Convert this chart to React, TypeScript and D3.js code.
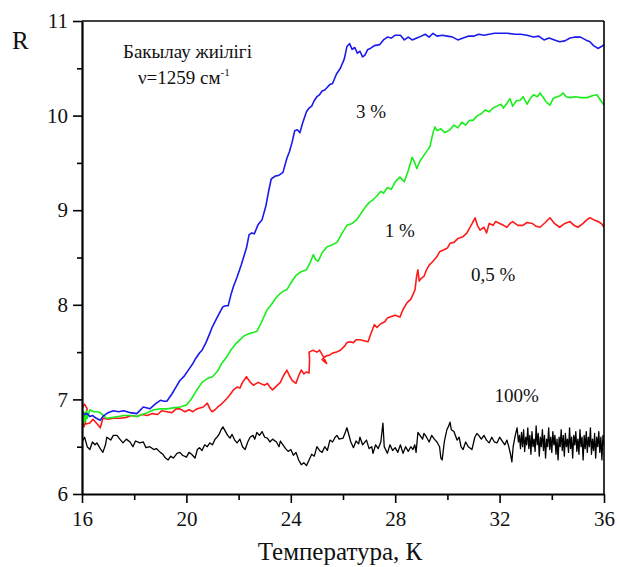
import * as d3 from "d3";
import { useEffect, useRef } from "react";

// temperature, K / reflectance R
const blue3: [number, number][] = [
  [16.0, 6.86], [16.1, 6.84], [16.2, 6.85], [16.3, 6.82], [16.4, 6.83], [16.55, 6.8], [16.7, 6.78], [16.8, 6.82],
  [17.0, 6.86], [17.2, 6.88], [17.4, 6.87], [17.6, 6.88], [17.85, 6.86], [18.1, 6.85], [18.35, 6.92], [18.5, 6.91],
  [18.6, 6.9], [18.8, 6.95], [19.0, 6.99], [19.15, 6.98], [19.25, 6.98], [19.45, 7.06], [19.6, 7.13], [19.75, 7.2],
  [19.9, 7.24], [20.1, 7.32], [20.25, 7.38], [20.35, 7.43], [20.5, 7.49], [20.6, 7.52], [20.75, 7.6], [20.9, 7.7],
  [21.0, 7.77], [21.15, 7.85], [21.3, 7.93], [21.4, 7.98], [21.5, 7.99], [21.6, 7.99], [21.7, 8.1], [21.8, 8.19],
  [21.95, 8.3], [22.1, 8.42], [22.2, 8.51], [22.3, 8.6], [22.4, 8.74], [22.5, 8.76], [22.6, 8.75], [22.75, 8.85],
  [22.9, 8.9], [23.05, 9.05], [23.15, 9.2], [23.25, 9.33], [23.4, 9.36], [23.55, 9.37], [23.7, 9.4], [23.85, 9.55],
  [23.95, 9.62], [24.05, 9.72], [24.15, 9.84], [24.25, 9.85], [24.35, 9.82], [24.45, 9.92], [24.6, 10.04], [24.7, 10.08],
  [24.8, 10.1], [24.9, 10.16], [25.0, 10.2], [25.1, 10.22], [25.2, 10.26], [25.3, 10.27], [25.4, 10.3], [25.5, 10.33],
  [25.6, 10.34], [25.75, 10.44], [25.9, 10.5], [26.05, 10.6], [26.15, 10.73], [26.25, 10.76], [26.35, 10.7], [26.45, 10.72],
  [26.55, 10.66], [26.65, 10.68], [26.75, 10.62], [26.84, 10.64], [26.95, 10.7], [27.05, 10.71], [27.2, 10.74], [27.4, 10.75],
  [27.55, 10.8], [27.7, 10.83], [27.85, 10.82], [28.0, 10.85], [28.2, 10.85], [28.35, 10.8], [28.5, 10.83], [28.65, 10.8],
  [28.83, 10.82], [29.0, 10.84], [29.15, 10.86], [29.3, 10.83], [29.45, 10.87], [29.6, 10.84], [29.8, 10.85], [30.0, 10.84],
  [30.2, 10.83], [30.4, 10.8], [30.6, 10.82], [30.8, 10.84], [31.0, 10.84], [31.2, 10.86], [31.4, 10.85], [31.6, 10.86],
  [31.8, 10.87], [32.0, 10.87], [32.3, 10.87], [32.6, 10.86], [32.8, 10.86], [33.05, 10.85], [33.3, 10.83], [33.5, 10.84],
  [33.7, 10.8], [33.9, 10.82], [34.1, 10.8], [34.3, 10.78], [34.5, 10.79], [34.7, 10.82], [34.9, 10.83], [35.1, 10.83],
  [35.3, 10.8], [35.46, 10.78], [35.6, 10.74], [35.77, 10.71], [35.9, 10.73], [36.0, 10.75],
];

const green1: [number, number][] = [
  [16.0, 6.88], [16.02, 6.74], [16.05, 6.87], [16.08, 6.75], [16.11, 6.86], [16.14, 6.77], [16.17, 6.88], [16.2, 6.8],
  [16.3, 6.89], [16.45, 6.87], [16.6, 6.87], [16.7, 6.86], [16.85, 6.82], [16.95, 6.8], [17.2, 6.81], [17.4, 6.82],
  [17.6, 6.83], [17.85, 6.83], [18.1, 6.82], [18.3, 6.84], [18.5, 6.86], [18.75, 6.89], [19.0, 6.9], [19.25, 6.9],
  [19.5, 6.91], [19.75, 6.92], [20.0, 6.94], [20.15, 6.99], [20.25, 7.03], [20.4, 7.1], [20.6, 7.18], [20.8, 7.22],
  [21.0, 7.24], [21.2, 7.3], [21.35, 7.38], [21.55, 7.45], [21.7, 7.52], [21.9, 7.59], [22.05, 7.63], [22.2, 7.67],
  [22.35, 7.69], [22.45, 7.7], [22.6, 7.71], [22.7, 7.72], [22.85, 7.8], [23.0, 7.89], [23.1, 7.95], [23.25, 8.0],
  [23.45, 8.08], [23.6, 8.12], [23.75, 8.15], [23.85, 8.16], [24.0, 8.23], [24.2, 8.31], [24.4, 8.35], [24.6, 8.37],
  [24.75, 8.45], [24.86, 8.53], [24.95, 8.48], [25.05, 8.46], [25.2, 8.55], [25.38, 8.61], [25.55, 8.63], [25.77, 8.66],
  [25.95, 8.75], [26.15, 8.84], [26.35, 8.86], [26.53, 8.9], [26.7, 8.97], [26.85, 9.03], [27.0, 9.08], [27.15, 9.11],
  [27.3, 9.15], [27.45, 9.2], [27.55, 9.18], [27.7, 9.24], [27.85, 9.22], [28.0, 9.3], [28.18, 9.35], [28.35, 9.3],
  [28.5, 9.42], [28.65, 9.56], [28.75, 9.5], [28.83, 9.44], [28.95, 9.52], [29.1, 9.58], [29.25, 9.64], [29.33, 9.67],
  [29.45, 9.82], [29.52, 9.88], [29.6, 9.84], [29.75, 9.86], [29.9, 9.82], [30.1, 9.85], [30.25, 9.9], [30.4, 9.87],
  [30.55, 9.93], [30.7, 9.9], [30.85, 9.95], [30.98, 9.95], [31.15, 10.0], [31.3, 10.02], [31.45, 10.06], [31.6, 10.04],
  [31.75, 10.08], [31.9, 10.1], [32.05, 10.12], [32.15, 10.08], [32.28, 10.13], [32.4, 10.18], [32.5, 10.1], [32.65, 10.16],
  [32.78, 10.16], [32.9, 10.2], [33.05, 10.12], [33.17, 10.18], [33.3, 10.22], [33.45, 10.2], [33.55, 10.24], [33.7, 10.18],
  [33.8, 10.14], [33.93, 10.11], [34.05, 10.18], [34.2, 10.2], [34.32, 10.21], [34.43, 10.24], [34.55, 10.2], [34.7, 10.19],
  [34.9, 10.2], [35.1, 10.19], [35.35, 10.19], [35.55, 10.21], [35.73, 10.22], [35.85, 10.17], [36.0, 10.11],
];

const red05: [number, number][] = [
  [16.0, 6.91], [16.1, 6.95], [16.2, 6.9], [16.1, 6.8], [16.0, 6.72], [16.04, 6.76], [16.08, 6.71], [16.12, 6.76],
  [16.15, 6.74], [16.3, 6.75], [16.42, 6.79], [16.55, 6.75], [16.7, 6.7], [16.8, 6.8], [17.0, 6.79], [17.2, 6.8],
  [17.45, 6.8], [17.7, 6.81], [17.9, 6.83], [18.1, 6.82], [18.3, 6.84], [18.5, 6.83], [18.7, 6.85], [18.9, 6.84],
  [19.05, 6.88], [19.25, 6.87], [19.45, 6.86], [19.6, 6.9], [19.75, 6.9], [19.95, 6.87], [20.1, 6.89], [20.25, 6.87],
  [20.4, 6.9], [20.52, 6.91], [20.65, 6.92], [20.8, 6.96], [20.9, 6.9], [20.98, 6.87], [21.1, 6.89], [21.2, 6.92],
  [21.3, 6.94], [21.45, 6.98], [21.55, 7.01], [21.67, 7.05], [21.8, 7.1], [21.94, 7.13], [22.05, 7.12], [22.15, 7.18],
  [22.3, 7.24], [22.45, 7.18], [22.57, 7.15], [22.75, 7.18], [22.9, 7.16], [23.0, 7.15], [23.1, 7.17], [23.2, 7.13],
  [23.3, 7.1], [23.45, 7.14], [23.6, 7.18], [23.72, 7.25], [23.85, 7.31], [23.95, 7.25], [24.05, 7.2], [24.2, 7.17],
  [24.3, 7.25], [24.4, 7.31], [24.5, 7.27], [24.6, 7.29], [24.7, 7.28], [24.72, 7.42], [24.7, 7.5], [24.85, 7.52],
  [25.0, 7.5], [25.1, 7.52], [25.25, 7.45], [25.37, 7.38], [25.2, 7.42], [25.35, 7.46], [25.5, 7.47], [25.6, 7.49],
  [25.75, 7.5], [25.9, 7.52], [26.05, 7.56], [26.15, 7.6], [26.27, 7.61], [26.4, 7.6], [26.5, 7.63], [26.65, 7.63],
  [26.8, 7.62], [26.96, 7.61], [27.05, 7.68], [27.2, 7.79], [27.3, 7.76], [27.45, 7.8], [27.6, 7.82], [27.7, 7.86],
  [27.8, 7.87], [28.0, 7.89], [28.18, 7.87], [28.3, 7.95], [28.45, 8.02], [28.6, 8.06], [28.7, 8.12], [28.76, 8.16],
  [28.82, 8.3], [28.87, 8.37], [28.92, 8.25], [29.0, 8.28], [29.1, 8.3], [29.2, 8.37], [29.3, 8.42], [29.45, 8.46],
  [29.6, 8.51], [29.7, 8.56], [29.85, 8.58], [30.0, 8.6], [30.1, 8.65], [30.25, 8.66], [30.4, 8.7], [30.6, 8.72],
  [30.75, 8.76], [30.87, 8.82], [30.95, 8.86], [31.06, 8.92], [31.15, 8.84], [31.25, 8.79], [31.4, 8.82], [31.5, 8.76],
  [31.6, 8.86], [31.75, 8.84], [31.85, 8.88], [32.0, 8.86], [32.15, 8.84], [32.28, 8.82], [32.4, 8.86], [32.5, 8.88],
  [32.7, 8.84], [32.9, 8.84], [33.05, 8.87], [33.25, 8.86], [33.4, 8.83], [33.55, 8.82], [33.75, 8.87], [33.93, 8.92],
  [34.1, 8.86], [34.3, 8.82], [34.5, 8.86], [34.7, 8.88], [34.85, 8.84], [35.0, 8.82], [35.2, 8.86], [35.35, 8.9],
  [35.46, 8.92], [35.6, 8.9], [35.77, 8.88], [35.9, 8.86], [36.0, 8.82],
];

const black100: [number, number][] = [
  [16.0, 6.55], [16.1, 6.6], [16.2, 6.5], [16.3, 6.47], [16.4, 6.55], [16.5, 6.52], [16.57, 6.54], [16.7, 6.48],
  [16.8, 6.44], [16.9, 6.52], [16.95, 6.6], [17.1, 6.57], [17.2, 6.62], [17.34, 6.62], [17.45, 6.58], [17.57, 6.54],
  [17.7, 6.58], [17.84, 6.55], [17.95, 6.5], [18.05, 6.56], [18.22, 6.54], [18.35, 6.55], [18.45, 6.49], [18.6, 6.5],
  [18.75, 6.47], [18.85, 6.48], [19.0, 6.44], [19.1, 6.42], [19.2, 6.38], [19.3, 6.36], [19.4, 6.4], [19.5, 6.38],
  [19.64, 6.43], [19.75, 6.44], [19.85, 6.41], [20.0, 6.39], [20.1, 6.44], [20.2, 6.42], [20.33, 6.38], [20.42, 6.47],
  [20.5, 6.49], [20.6, 6.46], [20.7, 6.52], [20.8, 6.5], [20.9, 6.54], [21.0, 6.52], [21.1, 6.58], [21.17, 6.6],
  [21.25, 6.63], [21.33, 6.68], [21.4, 6.71], [21.5, 6.66], [21.58, 6.62], [21.67, 6.59], [21.75, 6.63], [21.85, 6.57],
  [21.94, 6.54], [22.05, 6.58], [22.15, 6.5], [22.25, 6.47], [22.35, 6.55], [22.44, 6.6], [22.55, 6.62], [22.62, 6.58],
  [22.7, 6.65], [22.8, 6.62], [22.9, 6.66], [23.0, 6.6], [23.1, 6.59], [23.2, 6.55], [23.3, 6.58], [23.45, 6.55],
  [23.55, 6.5], [23.6, 6.56], [23.7, 6.52], [23.8, 6.48], [23.9, 6.45], [24.0, 6.47], [24.1, 6.41], [24.2, 6.44],
  [24.3, 6.36], [24.4, 6.31], [24.5, 6.33], [24.6, 6.3], [24.7, 6.36], [24.8, 6.42], [24.9, 6.4], [25.0, 6.5],
  [25.1, 6.46], [25.2, 6.44], [25.3, 6.5], [25.4, 6.46], [25.5, 6.57], [25.6, 6.55], [25.7, 6.6], [25.77, 6.62],
  [25.85, 6.58], [26.0, 6.59], [26.1, 6.66], [26.15, 6.7], [26.25, 6.6], [26.3, 6.55], [26.4, 6.49], [26.5, 6.56],
  [26.6, 6.53], [26.65, 6.6], [26.75, 6.52], [26.9, 6.57], [27.0, 6.48], [27.1, 6.5], [27.15, 6.43], [27.25, 6.52],
  [27.35, 6.48], [27.45, 6.55], [27.53, 6.75], [27.58, 6.5], [27.7, 6.43], [27.8, 6.52], [27.9, 6.46], [28.0, 6.49],
  [28.1, 6.44], [28.2, 6.52], [28.3, 6.43], [28.4, 6.5], [28.5, 6.45], [28.6, 6.5], [28.68, 6.47], [28.75, 6.52],
  [28.8, 6.44], [28.87, 6.65], [28.95, 6.62], [29.05, 6.58], [29.1, 6.64], [29.2, 6.6], [29.3, 6.55], [29.4, 6.62],
  [29.5, 6.58], [29.6, 6.55], [29.7, 6.5], [29.75, 6.38], [29.8, 6.36], [29.88, 6.55], [29.98, 6.68], [30.05, 6.72],
  [30.1, 6.76], [30.15, 6.68], [30.25, 6.66], [30.37, 6.57], [30.45, 6.6], [30.52, 6.5], [30.6, 6.47], [30.7, 6.55],
  [30.8, 6.5], [30.94, 6.47], [31.05, 6.6], [31.13, 6.64], [31.2, 6.62], [31.3, 6.58], [31.4, 6.62], [31.5, 6.57],
  [31.6, 6.54], [31.7, 6.6], [31.8, 6.55], [31.9, 6.54], [32.0, 6.6], [32.1, 6.56], [32.2, 6.52], [32.28, 6.57],
  [32.35, 6.5], [32.42, 6.42], [32.47, 6.34], [32.52, 6.5], [32.6, 6.62], [32.67, 6.7], [32.72, 6.55], [32.76, 6.62],
  [32.8, 6.48], [32.84, 6.65], [32.88, 6.5], [32.92, 6.68], [32.96, 6.45], [33.0, 6.6], [33.04, 6.52], [33.08, 6.7],
  [33.12, 6.48], [33.16, 6.62], [33.2, 6.42], [33.24, 6.66], [33.28, 6.5], [33.32, 6.58], [33.36, 6.45], [33.4, 6.72],
  [33.44, 6.52], [33.48, 6.64], [33.52, 6.4], [33.56, 6.6], [33.6, 6.5], [33.64, 6.68], [33.68, 6.46], [33.72, 6.62],
  [33.76, 6.38], [33.8, 6.58], [33.84, 6.5], [33.88, 6.7], [33.92, 6.47], [33.96, 6.6], [34.0, 6.44], [34.04, 6.66],
  [34.08, 6.52], [34.12, 6.62], [34.16, 6.42], [34.2, 6.58], [34.24, 6.36], [34.28, 6.6], [34.32, 6.5], [34.36, 6.68],
  [34.4, 6.46], [34.44, 6.62], [34.48, 6.4], [34.52, 6.64], [34.56, 6.5], [34.6, 6.58], [34.64, 6.44], [34.68, 6.7],
  [34.72, 6.48], [34.76, 6.6], [34.8, 6.38], [34.84, 6.62], [34.88, 6.52], [34.92, 6.66], [34.96, 6.45], [35.0, 6.58],
  [35.04, 6.42], [35.08, 6.68], [35.12, 6.5], [35.16, 6.6], [35.2, 6.36], [35.24, 6.62], [35.28, 6.48], [35.32, 6.66],
  [35.36, 6.44], [35.4, 6.6], [35.44, 6.5], [35.48, 6.7], [35.52, 6.42], [35.56, 6.58], [35.6, 6.46], [35.64, 6.64],
  [35.68, 6.38], [35.72, 6.6], [35.76, 6.5], [35.8, 6.66], [35.84, 6.44], [35.88, 6.6], [35.92, 6.36], [35.96, 6.62],
  [36.0, 6.52],
];

const xTicks = [16, 20, 24, 28, 32, 36];
const xMinor = [18, 22, 26, 30, 34];
const yTicks = [6, 7, 8, 9, 10, 11];
const yMinor = [6.5, 7.5, 8.5, 9.5, 10.5];

const series = [
  { name: "100%", data: black100, color: "#000000", width: 1.3 },
  { name: "0,5 %", data: red05, color: "#ff1a1a", width: 1.6 },
  { name: "1 %", data: green1, color: "#1aee1a", width: 1.6 },
  { name: "3 %", data: blue3, color: "#1a1aee", width: 1.6 },
];

// curve labels: [text, T, R]
const curveLabels: [string, number, number][] = [
  ["3 %", 26.5, 9.97],
  ["1 %", 27.6, 8.72],
  ["0,5 %", 30.9, 8.25],
  ["100%", 31.8, 6.97],
];

const FONT = "Liberation Serif, Times New Roman, DejaVu Serif, serif";

export default function App() {
  const ref = useRef<SVGSVGElement>(null);

  useEffect(() => {
    const width = 617;
    const height = 567;
    const m = { top: 21, right: 13, bottom: 73, left: 82 };

    const svg = d3.select(ref.current);
    svg.selectAll("*").remove();

    const x = d3.scaleLinear().domain([16, 36]).range([m.left, width - m.right]);
    const y = d3.scaleLinear().domain([6, 11]).range([height - m.bottom, m.top]);

    svg.append("rect").attr("width", width).attr("height", height).attr("fill", "#fff");

    svg.append("clipPath").attr("id", "plot")
      .append("rect")
      .attr("x", x(16)).attr("y", y(11))
      .attr("width", x(36) - x(16)).attr("height", y(6) - y(11));

    const line = d3.line<[number, number]>()
      .x((d) => x(d[0]))
      .y((d) => y(d[1]));

    svg.append("g").attr("clip-path", "url(#plot)")
      .selectAll("path")
      .data(series)
      .enter()
      .append("path")
      .attr("d", (d) => line(d.data))
      .attr("fill", "none")
      .attr("stroke", (d) => d.color)
      .attr("stroke-width", (d) => d.width)
      .attr("stroke-linejoin", "round");

    // frame: top and right plain
    svg.append("line")
      .attr("x1", x(16)).attr("x2", x(36)).attr("y1", y(11)).attr("y2", y(11))
      .attr("stroke", "#000").attr("stroke-width", 1.6);
    svg.append("line")
      .attr("x1", x(36)).attr("x2", x(36)).attr("y1", y(11)).attr("y2", y(6))
      .attr("stroke", "#000").attr("stroke-width", 1.6);

    const styleAxis = (g: any) => {
      g.attr("font-family", null);
      g.select(".domain").attr("stroke-width", 2.2);
      g.selectAll(".tick line").attr("stroke-width", 1.6);
      g.selectAll("text").style("font-family", FONT).style("font-size", "21px").attr("fill", "#111");
    };

    // minor ticks
    svg.append("g")
      .attr("transform", `translate(${x(16)},0)`)
      .call(d3.axisLeft(y).tickValues(yMinor).tickSize(5).tickFormat(() => ""))
      .call((g) => g.select(".domain").remove())
      .call((g) => g.selectAll(".tick line").attr("stroke-width", 1.6));
    svg.append("g")
      .attr("transform", `translate(0,${y(6)})`)
      .call(d3.axisBottom(x).tickValues(xMinor).tickSize(6).tickFormat(() => ""))
      .call((g) => g.select(".domain").remove())
      .call((g) => g.selectAll(".tick line").attr("stroke-width", 1.6));

    svg.append("g")
      .attr("transform", `translate(${x(16)},0)`)
      .call(d3.axisLeft(y).tickValues(yTicks).tickSize(9).tickSizeOuter(0).tickPadding(5).tickFormat(d3.format("d")))
      .call(styleAxis);

    svg.append("g")
      .attr("transform", `translate(0,${y(6)})`)
      .call(d3.axisBottom(x).tickValues(xTicks).tickSize(9).tickSizeOuter(0).tickPadding(8).tickFormat(d3.format("d")))
      .call(styleAxis);

    const addText = (tx: number, ty: number, size: number, s: string, anchor = "start") =>
      svg.append("text")
        .attr("x", tx).attr("y", ty)
        .attr("text-anchor", anchor)
        .style("font-family", FONT).style("font-size", `${size}px`)
        .attr("fill", "#111")
        .text(s);

    addText(12, 49, 25, "R");
    addText(340, 560, 25, "Температура, К", "middle");
    addText(123, 58, 19, "Бакылау жиілігі");

    const nu = addText(138, 84, 19, "");
    nu.append("tspan").text("ν=1259 см");
    nu.append("tspan").style("font-size", "11px").attr("dy", -8).text("-1");

    svg.append("g")
      .selectAll("text")
      .data(curveLabels)
      .enter()
      .append("text")
      .attr("x", (d) => x(d[1]))
      .attr("y", (d) => y(d[2]))
      .style("font-family", FONT).style("font-size", "19px")
      .attr("fill", "#111")
      .text((d) => d[0]);
  }, []);

  return (
    <svg
      ref={ref}
      width={617}
      height={567}
      style={{ position: "absolute", left: 0, top: 0 }}
    />
  );
}
